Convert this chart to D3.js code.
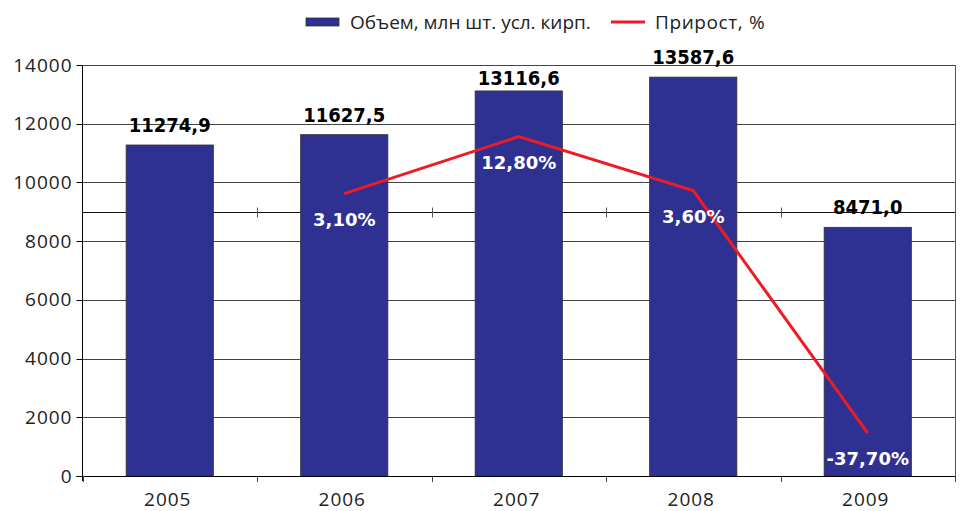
<!DOCTYPE html>
<html><head><meta charset="utf-8">
<script src="https://cdn.jsdelivr.net/npm/d3@7/dist/d3.min.js"></script>
<style>body{margin:0;background:#fff}</style>
</head><body><svg id="c" width="961" height="511"></svg>
<script>
const years = ["2005","2006","2007","2008","2009"];
const volume = [11274.9, 11627.5, 13116.6, 13587.6, 8471.0];
const volumeLabels = ["11274,9","11627,5","13116,6","13587,6","8471,0"];
const growthYears = ["2006","2007","2008","2009"];
const growth = [3.10, 12.80, 3.60, -37.70];
const growthLabels = ["3,10%","12,80%","3,60%","-37,70%"];
const yTicks = [0,2000,4000,6000,8000,10000,12000,14000];
const legendNames = ["Объем, млн шт. усл. кирп.", "Прирост, %"];

const svg = d3.select("#c");
const L = 82.5, R = 955, T = 65, B = 476;
const barColor = "#2E3192", lineColor = "#ED1C24";

const x = d3.scaleBand().domain(years).range([L, R]).paddingInner(0.5).paddingOuter(0.25);
const y = d3.scaleLinear().domain([0, 14000]).range([B, T]);
const y2 = d3.scaleLinear().domain([-45, 25]).range([B, T]);
const step = x.step();
const cx = d => x(d) + x.bandwidth()/2;

// gridlines
const g = svg.append("g");
g.selectAll("line.grid").data(yTicks.filter(v => v > 0)).join("line")
  .attr("x1", L).attr("x2", R).attr("y1", d => Math.round(y(d)) + 0.5).attr("y2", d => Math.round(y(d)) + 0.5)
  .attr("stroke", "#444").attr("stroke-width", 1);

// secondary zero axis with ticks at band boundaries
const boundaries = d3.range(years.length + 1).map(i => L + i * step);
const y0 = Math.round(y2(0)) + 0.5;
g.append("line").attr("x1", L).attr("x2", R).attr("y1", y0).attr("y2", y0).attr("stroke", "#111").attr("stroke-width", 1);
g.selectAll("line.t2").data(boundaries.slice(1, -1)).join("line")
  .attr("x1", d => Math.round(d) + 0.5).attr("x2", d => Math.round(d) + 0.5)
  .attr("y1", y0 - 5).attr("y2", y0 + 5).attr("stroke", "#555");

// right border
g.append("line").attr("x1", R + 0.5).attr("x2", R + 0.5).attr("y1", T).attr("y2", B).attr("stroke", "#555");

// bars
svg.append("g").selectAll("rect").data(years).join("rect")
  .attr("x", d => x(d)).attr("width", x.bandwidth())
  .attr("y", (d, i) => y(volume[i])).attr("height", (d, i) => B - y(volume[i]))
  .attr("fill", barColor).attr("stroke", "#333").attr("stroke-width", 0.8);

// axes
const ax = svg.append("g");
ax.append("line").attr("x1", L).attr("x2", L).attr("y1", T).attr("y2", B + 5).attr("stroke", "#000");
ax.append("line").attr("x1", L - 6).attr("x2", R).attr("y1", B + 0.5).attr("y2", B + 0.5).attr("stroke", "#000");
ax.selectAll("line.yt").data(yTicks).join("line")
  .attr("x1", L - 6).attr("x2", L).attr("y1", d => Math.round(y(d)) + 0.5).attr("y2", d => Math.round(y(d)) + 0.5).attr("stroke", "#000");
ax.selectAll("text.yl").data(yTicks).join("text")
  .attr("x", L - 10).attr("y", d => y(d) + 6.5).attr("text-anchor", "end")
  .attr("font-family", "Open Sans").attr("font-size", 19).attr("letter-spacing", 1).attr("fill", "#222")
  .text(d => d);
ax.selectAll("line.xt").data(boundaries).join("line")
  .attr("x1", d => Math.round(d) + 0.5).attr("x2", d => Math.round(d) + 0.5).attr("y1", B).attr("y2", B + 6).attr("stroke", "#444");
ax.selectAll("text.xl").data(years).join("text")
  .attr("x", d => cx(d) - 2).attr("y", 506).attr("text-anchor", "middle")
  .attr("font-family", "Open Sans").attr("font-size", 19).attr("letter-spacing", 1).attr("fill", "#222")
  .text(d => d);

// growth line
const line = d3.line().x((d, i) => cx(growthYears[i])).y(d => y2(d));
svg.append("path").datum(growth).attr("d", line).attr("fill", "none").attr("stroke", lineColor).attr("stroke-width", 3);

// value labels
svg.append("g").selectAll("text").data(years).join("text")
  .attr("x", d => cx(d)).attr("y", (d, i) => y(volume[i]) - (i === 2 ? 6 : 13))
  .attr("text-anchor", "middle").attr("font-family", "DejaVu Sans Condensed").attr("font-weight", "bold")
  .attr("font-size", 20).attr("fill", "#000").text((d, i) => volumeLabels[i]);

// growth labels
svg.append("g").selectAll("text").data(growthYears).join("text")
  .attr("x", d => cx(d)).attr("y", (d, i) => y2(growth[i]) + 32)
  .attr("text-anchor", "middle").attr("font-family", "DejaVu Sans").attr("font-weight", "bold")
  .attr("font-size", 18).attr("fill", "#fff").text((d, i) => growthLabels[i]);

// legend
const lg = svg.append("g");
lg.append("rect").attr("x", 306).attr("y", 18).attr("width", 33).attr("height", 8).attr("fill", barColor).attr("stroke", "#333").attr("stroke-width", 0.8);
lg.append("text").attr("x", 350).attr("y", 29).attr("font-family", "Open Sans").attr("font-size", 19).attr("fill", "#222").text(legendNames[0]);
lg.append("line").attr("x1", 611).attr("x2", 645).attr("y1", 22).attr("y2", 22).attr("stroke", lineColor).attr("stroke-width", 3);
lg.append("text").attr("x", 655).attr("y", 29).attr("font-family", "Open Sans").attr("font-size", 19).attr("letter-spacing", 0.6).attr("fill", "#222").text(legendNames[1]);
</script></body></html>
